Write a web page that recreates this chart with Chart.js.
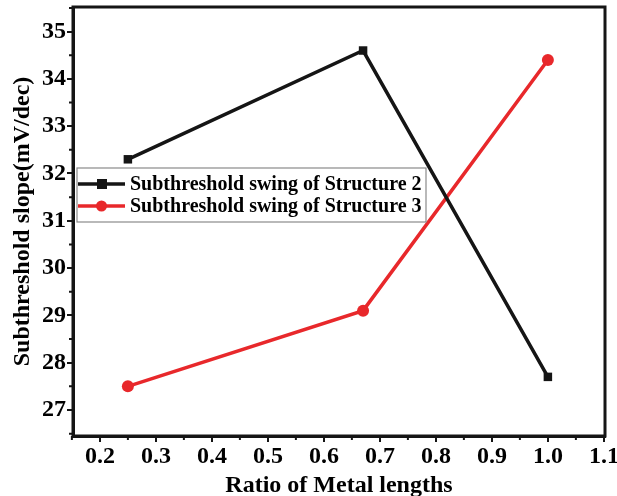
<!DOCTYPE html>
<html>
<head>
<meta charset="utf-8">
<script src="https://cdn.jsdelivr.net/npm/chart.js@4/dist/chart.umd.min.js"></script>
<style>
html,body{margin:0;padding:0;background:#fff;}
#wrap{width:617px;height:496px;position:relative;}
</style>
</head>
<body>
<div id="wrap"><canvas id="c" width="617" height="496"></canvas></div>
<script>
// Data
const ratios = [0.25, 0.67, 1.0];
const structure2 = [32.3, 34.6, 27.7];
const structure3 = [27.5, 29.1, 34.4];
const seriesNames = ['Subthreshold swing of Structure 2', 'Subthreshold swing of Structure 3'];
const xTickValues = [0.2, 0.3, 0.4, 0.5, 0.6, 0.7, 0.8, 0.9, 1.0, 1.1];
const yTickValues = [27, 28, 29, 30, 31, 32, 33, 34, 35];
const xMinorValues = [0.15, 0.25, 0.35, 0.45, 0.55, 0.65, 0.75, 0.85, 0.95, 1.05];
const yMinorValues = [26.5, 27.5, 28.5, 29.5, 30.5, 31.5, 32.5, 33.5, 34.5, 35.5];

const FONT = '"Liberation Serif","Times New Roman",serif';
const BLACK = '#151515';
const RED = '#e8282b';

const toPts = (xs, ys) => xs.map((x, i) => ({x: x, y: ys[i]}));

const decorPlugin = {
  id: 'decor',
  afterDraw(chart) {
    const ctx = chart.ctx;
    const a = chart.chartArea;
    const xs = chart.scales.x, ys = chart.scales.y;
    ctx.save();
    // frame
    ctx.strokeStyle = BLACK;
    ctx.lineWidth = 3;
    ctx.strokeRect(a.left, a.top, a.right - a.left, a.bottom - a.top);
    // minor ticks
    ctx.lineWidth = 2;
    ctx.beginPath();
    xMinorValues.forEach(v => {
      const px = xs.getPixelForValue(v);
      ctx.moveTo(px, a.bottom); ctx.lineTo(px, a.bottom + 4);
    });
    yMinorValues.forEach(v => {
      const py = ys.getPixelForValue(v);
      ctx.moveTo(a.left, py); ctx.lineTo(a.left - 4, py);
    });
    ctx.stroke();
    // legend box
    const lx = 77, ly = 168, lw = 349, lh = 54;
    ctx.fillStyle = '#fff';
    ctx.fillRect(lx, ly, lw, lh);
    ctx.strokeStyle = '#8a8a8a';
    ctx.lineWidth = 1.2;
    ctx.strokeRect(lx, ly, lw, lh);
    const rows = [
      {name: seriesNames[0], color: BLACK, shape: 'rect', y: 184},
      {name: seriesNames[1], color: RED, shape: 'circle', y: 206}
    ];
    rows.forEach(r => {
      ctx.strokeStyle = r.color;
      ctx.lineWidth = 3.5;
      ctx.beginPath();
      ctx.moveTo(lx + 1, r.y); ctx.lineTo(lx + 48, r.y);
      ctx.stroke();
      ctx.fillStyle = r.color;
      if (r.shape === 'rect') {
        ctx.fillRect(lx + 20, r.y - 5, 10, 10);
      } else {
        ctx.beginPath(); ctx.arc(lx + 24.5, r.y, 5.5, 0, Math.PI * 2); ctx.fill();
      }
      ctx.fillStyle = '#000';
      ctx.font = 'bold 20px ' + FONT;
      ctx.textBaseline = 'middle';
      ctx.textAlign = 'left';
      ctx.fillText(r.name, lx + 53, r.y + 1);
    });
    ctx.restore();
  }
};

new Chart(document.getElementById('c'), {
  type: 'line',
  data: {
    datasets: [
      {
        label: seriesNames[0],
        data: toPts(ratios, structure2),
        borderColor: BLACK,
        backgroundColor: BLACK,
        borderWidth: 3.5,
        pointStyle: 'rect',
        pointRadius: 6,
        pointBorderWidth: 0,
        tension: 0
      },
      {
        label: seriesNames[1],
        data: toPts(ratios, structure3),
        borderColor: RED,
        backgroundColor: RED,
        borderWidth: 3.5,
        pointStyle: 'circle',
        pointRadius: 6,
        pointBorderWidth: 0,
        tension: 0
      }
    ]
  },
  options: {
    responsive: false,
    animation: false,
    layout: {padding: {left: 0, top: 7, right: 12, bottom: 0}},
    plugins: {legend: {display: false}, tooltip: {enabled: false}},
    scales: {
      x: {
        type: 'linear',
        min: 0.152,
        max: 1.102,
        afterBuildTicks: s => { s.ticks = xTickValues.map(v => ({value: v})); },
        afterFit: s => { s.height = 60; s.paddingLeft = 0; s.paddingRight = 0; },
        grid: {drawOnChartArea: false, color: BLACK, lineWidth: 2, tickLength: 6, tickColor: BLACK},
        border: {color: BLACK, width: 3},
        ticks: {
          color: '#000',
          font: {family: FONT, size: 24, weight: 'bold'},
          padding: 0,
          maxRotation: 0,
          autoSkip: false,
          callback: v => Number(v).toFixed(1)
        },
        title: {
          display: true,
          text: 'Ratio of Metal lengths',
          color: '#000',
          font: {family: FONT, size: 24, weight: 'bold'},
          padding: {top: 0, bottom: -4}
        }
      },
      y: {
        type: 'linear',
        min: 26.45,
        max: 35.52,
        afterBuildTicks: s => { s.ticks = yTickValues.map(v => ({value: v})); },
        afterFit: s => { s.width = 73; s.paddingTop = 0; s.paddingBottom = 0; },
        grid: {drawOnChartArea: false, color: BLACK, lineWidth: 2, tickLength: 6, tickColor: BLACK},
        border: {color: BLACK, width: 3},
        ticks: {
          color: '#000',
          font: {family: FONT, size: 24, weight: 'bold'},
          padding: 1,
          autoSkip: false,
          callback: v => String(v)
        },
        title: {
          display: true,
          text: 'Subthreshold slope(mV/dec)',
          color: '#000',
          font: {family: FONT, size: 24, weight: 'bold'},
          padding: {top: 8, bottom: 0}
        }
      }
    }
  },
  plugins: [decorPlugin]
});
</script>
</body>
</html>
